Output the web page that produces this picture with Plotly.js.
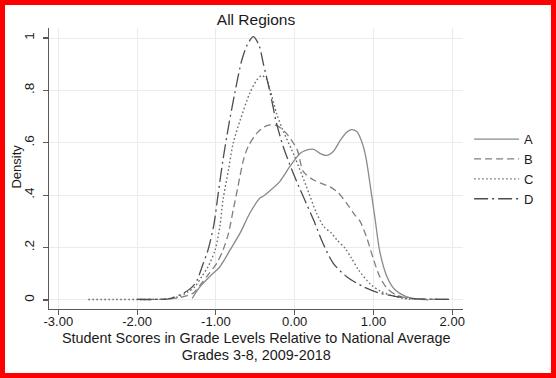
<!DOCTYPE html>
<html>
<head>
<meta charset="utf-8">
<script src="https://cdn.plot.ly/plotly-3.0.1.min.js"></script>
<style>
  html, body { margin: 0; padding: 0; background: #fff; }
  #wrap { position: relative; width: 556px; height: 378px; }
  #chart { position: absolute; left: 0; top: 0; width: 556px; height: 378px; }
  #frame { position: absolute; left: 0; top: 0; width: 556px; height: 378px; box-sizing: border-box; border: 5px solid #ff0000; pointer-events: none; }
</style>
</head>
<body>
<div id="wrap">
  <div id="chart"></div>
  <div id="frame"></div>
</div>
<script>
// Series names
const seriesNames = ["A", "B", "C", "D"];

// Series A (solid)
const aX = [-1.30,-1.26,-1.20,-1.08,-0.95,-0.82,-0.69,-0.57,-0.44,-0.40,-0.31,-0.19,-0.06,0.07,0.15,0.24,0.32,0.41,0.49,0.58,0.66,0.72,0.79,0.85,0.90,0.96,1.02,1.08,1.17,1.27,1.40,1.55,1.70];
const aY = [0.006,0.026,0.051,0.089,0.127,0.191,0.257,0.331,0.389,0.396,0.418,0.452,0.51,0.56,0.572,0.575,0.56,0.552,0.567,0.61,0.64,0.65,0.642,0.605,0.55,0.435,0.31,0.185,0.09,0.04,0.015,0.004,0.001];

// Series B (dashed)
const bX = [-2.0,-1.8,-1.6,-1.45,-1.35,-1.28,-1.20,-1.10,-0.99,-0.91,-0.84,-0.78,-0.72,-0.65,-0.59,-0.48,-0.36,-0.25,-0.17,-0.10,0.03,0.11,0.24,0.34,0.45,0.55,0.66,0.75,0.83,0.91,1.00,1.08,1.17,1.29,1.46,1.7,2.0];
const bY = [0.002,0.002,0.004,0.01,0.018,0.028,0.057,0.096,0.14,0.19,0.255,0.344,0.433,0.535,0.586,0.637,0.665,0.668,0.655,0.634,0.575,0.49,0.458,0.445,0.432,0.41,0.369,0.33,0.30,0.242,0.155,0.089,0.045,0.019,0.006,0.003,0.002];

// Series C (dotted)
const cX = [-2.62,-2.3,-2.0,-1.7,-1.55,-1.45,-1.36,-1.27,-1.18,-1.10,-1.01,-0.95,-0.91,-0.84,-0.78,-0.69,-0.57,-0.48,-0.42,-0.36,-0.31,-0.23,-0.145,0.0,0.15,0.28,0.37,0.47,0.54,0.64,0.72,0.81,0.97,1.10,1.20,1.38,1.5];
const cY = [0.002,0.002,0.002,0.003,0.007,0.015,0.03,0.05,0.089,0.127,0.191,0.28,0.382,0.497,0.599,0.688,0.79,0.84,0.857,0.845,0.80,0.712,0.645,0.547,0.432,0.33,0.28,0.254,0.228,0.197,0.16,0.115,0.058,0.032,0.02,0.006,0.002];

// Series D (long dash-dot)
const dX = [-2.0,-1.8,-1.6,-1.54,-1.41,-1.30,-1.24,-1.16,-1.10,-1.03,-0.97,-0.91,-0.84,-0.76,-0.67,-0.60,-0.525,-0.45,-0.40,-0.31,-0.23,-0.145,-0.04,0.05,0.11,0.24,0.36,0.49,0.66,0.87,1.08,1.29,1.5,1.75,2.0];
const dY = [0.002,0.002,0.004,0.01,0.026,0.05,0.075,0.14,0.191,0.28,0.408,0.535,0.662,0.79,0.917,0.975,1.005,0.97,0.905,0.789,0.674,0.585,0.50,0.435,0.394,0.305,0.216,0.14,0.089,0.051,0.026,0.013,0.005,0.003,0.002];

// Axis ticks and titles
const xTickVals = [-3, -2, -1, 0, 1, 2];
const xTickText = ["-3.00", "-2.00", "-1.00", "0.00", "1.00", "2.00"];
const yTickVals = [0, 0.2, 0.4, 0.6, 0.8, 1];
const yTickText = ["0", ".2", ".4", ".6", ".8", "1"];
const chartTitle = "All Regions";
const xTitleLines = ["Student Scores in Grade Levels Relative to National Average", "Grades 3-8, 2009-2018"];
const yTitle = "Density";

const font = "Liberation Sans, Arial, sans-serif";
const txt = "#1a1a1a";
const axisCol = "#5a5a5a";
const seriesX = [aX, bX, cX, dX];
const seriesY = [aY, bY, cY, dY];
const styles = [
  {color: "#8a8a8a", dash: "solid", width: 1.3},
  {color: "#7f7f7f", dash: "7px,4px", width: 1.3},
  {color: "#6e6e6e", dash: "1.6px,2.4px", width: 1.4},
  {color: "#4d4d4d", dash: "14px,4px,2px,4px", width: 1.3}
];

const traces = seriesNames.map((n, i) => ({
  type: "scatter", mode: "lines", name: n,
  x: seriesX[i], y: seriesY[i],
  line: {color: styles[i].color, dash: styles[i].dash, width: styles[i].width, shape: "spline", smoothing: 0.8},
  hoverinfo: "skip"
}));

const bigSpan = s => '<span style="font-size:14.4px">' + s + '</span>';

const layout = {
  width: 556, height: 378,
  margin: {l: 49, r: 93, t: 28, b: 69},
  paper_bgcolor: "#ffffff", plot_bgcolor: "#ffffff",
  font: {family: font, color: txt, size: 13.5},
  title: {text: chartTitle, font: {family: font, size: 15.5, color: txt},
          x: 0.5, xref: "paper", xanchor: "center", y: 1, yref: "container", yanchor: "top", pad: {t: 14}},
  xaxis: {
    range: [-3.118, 2.136], tickvals: xTickVals, ticktext: xTickText,
    ticks: "outside", ticklen: 5, tickwidth: 1.2, tickcolor: axisCol,
    showline: true, linecolor: axisCol, linewidth: 1.3, mirror: false,
    showgrid: true, gridcolor: "#ebebeb", gridwidth: 1, zeroline: false,
    tickfont: {family: font, size: 13, color: txt}, ticklabelstandoff: -5
  },
  yaxis: {
    range: [-0.0344, 1.0383], tickvals: yTickVals, ticktext: yTickText, tickangle: -90,
    ticks: "outside", ticklen: 5, tickwidth: 1.2, tickcolor: axisCol,
    showline: true, linecolor: axisCol, linewidth: 1.3,
    showgrid: true, gridcolor: "#ebebeb", gridwidth: 1, zeroline: false,
    tickfont: {family: font, size: 13.5, color: txt},
    ticklabelstandoff: 3
  },
  annotations: [
    {text: bigSpan(xTitleLines[0]) + "<br>" + bigSpan(xTitleLines[1]),
     xref: "paper", yref: "paper", x: 0.5, y: -0.133, xanchor: "center", yanchor: "middle",
     showarrow: false, font: {family: font, size: 12.7, color: txt}},
    {text: yTitle, xref: "paper", yref: "paper", x: -0.0785, y: 0.505, xanchor: "center", yanchor: "middle",
     textangle: -90, showarrow: false, font: {family: font, size: 13, color: txt}}
  ],
  showlegend: true,
  legend: {
    x: 1.0147, xanchor: "left", y: 0.658, yanchor: "top",
    font: {family: font, size: 13, color: txt},
    bgcolor: "rgba(0,0,0,0)", borderwidth: 0, itemwidth: 45,
    tracegroupgap: 0
  }
};

Plotly.newPlot("chart", traces, layout, {displayModeBar: false, staticPlot: true});
</script>
</body>
</html>
